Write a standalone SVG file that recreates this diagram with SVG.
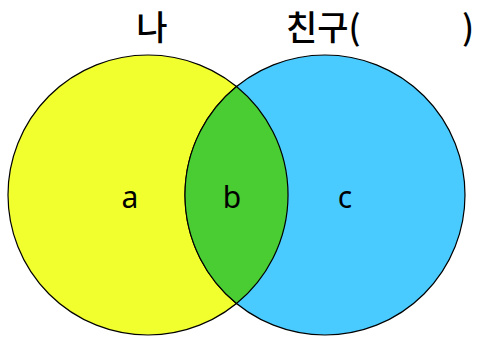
<svg xmlns="http://www.w3.org/2000/svg" width="477" height="338" viewBox="0 0 477 338">
<style>
.c{stroke:#000;stroke-width:1.2}
.t{font-family:"Noto Sans CJK KR","Noto Sans",sans-serif;font-size:34px;font-weight:500;fill:#000}
.l{font-family:"Noto Sans","DejaVu Sans",sans-serif;font-size:30px;fill:#000;text-anchor:middle}
</style>
<rect width="477" height="338" fill="#fff"/>
<g id="me"><circle class="c" cx="148" cy="195" r="140" fill="#F2FF2E"/></g>
<g id="friend"><circle class="c" cx="325" cy="195" r="140" fill="#4ACBFF"/></g>
<g id="both"><path class="c" d="M236.5 86.5 A140 140 0 0 1 236.5 303.5 A140 140 0 0 1 236.5 86.5 Z" fill="#4ACC33"/></g>
<g id="labels">
<text class="t" x="152" y="40" text-anchor="middle">나</text>
<text class="t" x="286" y="40">친구(</text>
<text class="t" x="462" y="40">)</text>
<text class="l" x="130" y="208">a</text>
<text class="l" x="232" y="208">b</text>
<text class="l" x="345" y="208">c</text>
</g>
</svg>
